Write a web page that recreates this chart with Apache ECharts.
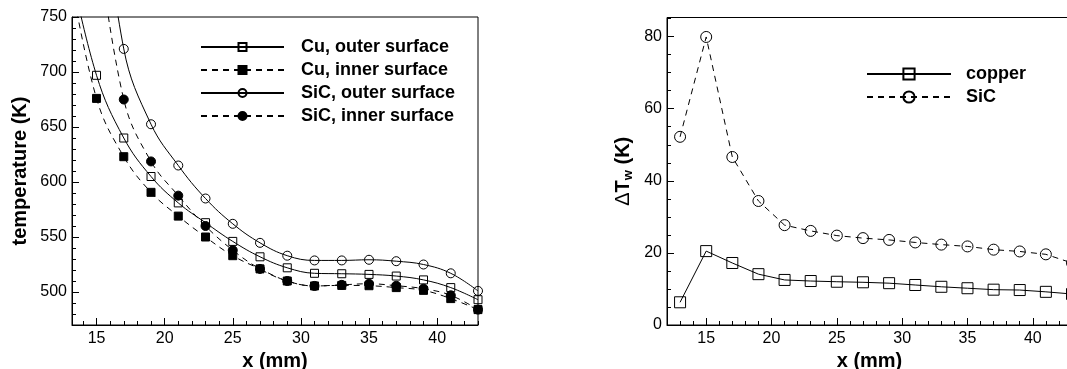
<!DOCTYPE html>
<html>
<head>
<meta charset="utf-8">
<script src="https://cdn.jsdelivr.net/npm/echarts@6/dist/echarts.min.js"></script>
<style>
  html, body { margin: 0; padding: 0; background: #fff; }
  #chart { width: 1067px; height: 369px; }
</style>
</head>
<body>
<div id="chart"></div>
<script>
// Axial stations along the wall (mm)
const xPositions = [13, 15, 17, 19, 21, 23, 25, 27, 29, 31, 33, 35, 37, 39, 41, 43];

// Wall temperatures (K); null where a curve has no station
const cuOuter  = [800, 697, 640, 605, 581, 563, 546, 532, 522, 517, 516.6, 516, 514.5, 511, 504, 493];
const cuInner  = [794, 676, 623, 590.6, 569, 550, 533, 521, 510, 505.5, 506, 505.7, 504, 501.5, 494, 484];
const sicOuter = [null, 910, 721, 652.5, 615, 585, 562, 544.7, 533, 528.7, 528.7, 529.3, 528, 525, 517, 501];
const sicInner = [null, 830, 675, 618.7, 587.6, 560, 538, 521, 510, 505.5, 506.5, 507.5, 505.7, 503, 497, 484];

// Wall temperature difference ΔTw (K)
const dtCopper = [6.3, 20.5, 17.2, 14.1, 12.5, 12.2, 12.0, 11.85, 11.6, 11.1, 10.6, 10.2, 9.8, 9.7, 9.2, 8.6];
const dtSiC    = [52.2, 79.9, 46.6, 34.4, 27.7, 26.1, 24.8, 24.1, 23.6, 22.9, 22.3, 21.8, 20.9, 20.4, 19.6, 17.2];

// Tick positions
const xTicks     = [15, 20, 25, 30, 35, 40];
const tempTicks  = [500, 550, 600, 650, 700, 750];
const dtTicks    = [0, 20, 40, 60, 80];
const xMinorLeft  = [14, 16, 17, 18, 19, 21, 22, 23, 24, 26, 27, 28, 29, 31, 32, 33, 34, 36, 37, 38, 39, 41, 42, 43];
const xMinorRight = [12, 13, 14, 16, 17, 18, 19, 21, 22, 23, 24, 26, 27, 28, 29, 31, 32, 33, 34, 36, 37, 38, 39, 41, 42, 43];
const tempMinor  = [480, 490, 510, 520, 530, 540, 560, 570, 580, 590, 610, 620, 630, 640, 660, 670, 680, 690, 710, 720, 730, 740];
const dtMinor    = [5, 10, 15, 25, 30, 35, 45, 50, 55, 65, 70, 75, 85];

const FONT = 'Liberation Sans, Arial, Helvetica, sans-serif';
const BLACK = '#000';
const DASH = [6, 5];

function pairs(xs, ys) {
  const out = [];
  xs.forEach((x, i) => { if (ys[i] !== null) out.push([x, ys[i]]); });
  return out;
}

function majorAxis(dim, gridIndex, min, max, ticks, name, nameGap, extra) {
  const ax = {
    type: 'value', gridIndex, min, max,
    position: dim === 'x' ? 'bottom' : 'left',
    axisLine: { show: true, onZero: false, lineStyle: { color: BLACK, width: 1 } },
    axisTick: { show: true, inside: true, length: 7, customValues: ticks, lineStyle: { color: BLACK, width: 1 } },
    axisLabel: { show: true, customValues: ticks, margin: dim === 'x' ? 6 : 5, color: BLACK, fontSize: 16, fontFamily: FONT },
    splitLine: { show: false },
    name, nameLocation: 'middle', nameGap,
    nameTextStyle: { color: BLACK, fontSize: 20, fontWeight: 'bold', fontFamily: FONT }
  };
  return Object.assign(ax, extra || {});
}

function minorAxis(dim, gridIndex, min, max, ticks) {
  return {
    type: 'value', gridIndex, min, max,
    position: dim === 'x' ? 'bottom' : 'left',
    axisLine: { show: false, onZero: false },
    axisTick: { show: true, inside: true, length: 4, customValues: ticks, lineStyle: { color: BLACK, width: 1 } },
    axisLabel: { show: false },
    splitLine: { show: false }
  };
}

const openMark = { color: 'rgba(255,255,255,0)', borderColor: BLACK, borderWidth: 1 };
const filledMark = { color: BLACK, borderColor: BLACK, borderWidth: 1 };

function tempSeries(name, ys, symbol, size, mark, dashed) {
  return {
    name, type: 'line', xAxisIndex: 0, yAxisIndex: 0,
    data: pairs(xPositions, ys),
    smooth: 0.4, clip: true,
    symbol, symbolSize: size,
    itemStyle: mark,
    lineStyle: { color: BLACK, width: 1, type: dashed ? DASH : 'solid' },
    emphasis: { disabled: true }, animation: false
  };
}

function dtSeries(name, ys, symbol, dashed) {
  return {
    name, type: 'line', xAxisIndex: 2, yAxisIndex: 2,
    data: pairs(xPositions, ys),
    smooth: false, clip: true,
    symbol, symbolSize: 11,
    itemStyle: openMark,
    lineStyle: { color: BLACK, width: 1, type: dashed ? DASH : 'solid' },
    emphasis: { disabled: true }, animation: false
  };
}

const legendText = { color: BLACK, fontSize: 18, fontWeight: 'bold', fontFamily: FONT, padding: [0, 0, 0, 12] };

const gridBase = { show: true, borderColor: BLACK, borderWidth: 1, backgroundColor: 'transparent', outerBoundsMode: 'none', containLabel: false };

const option = {
  backgroundColor: '#fff',
  animation: false,
  grid: [
    Object.assign({ left: 72, top: 17, width: 406, height: 308 }, gridBase),
    Object.assign({ left: 667, top: 17.5, width: 405, height: 307.5 }, gridBase)
  ],
  xAxis: [
    majorAxis('x', 0, 13.2, 43, xTicks, 'x (mm)', 25),
    minorAxis('x', 0, 13.2, 43, xMinorLeft),
    majorAxis('x', 1, 12, 43, xTicks, 'x (mm)', 25),
    minorAxis('x', 1, 12, 43, xMinorRight)
  ],
  yAxis: [
    majorAxis('y', 0, 470, 750, tempTicks, 'temperature (K)', 42),
    minorAxis('y', 0, 470, 750, tempMinor),
    majorAxis('y', 1, 0, 85.3, dtTicks, '{d|Δ}{t|T}{w|w}{t| (K)}', 32, {
      nameTextStyle: {
        color: BLACK, fontSize: 20, fontWeight: 'bold', fontFamily: FONT,
        rich: {
          d: { fontSize: 20, fontWeight: 'normal', fontFamily: FONT, color: BLACK },
          t: { fontSize: 20, fontWeight: 'bold', fontFamily: FONT, color: BLACK },
          w: { fontSize: 13, fontWeight: 'bold', fontFamily: FONT, color: BLACK, padding: [10, 0, 0, 0] }
        }
      }
    }),
    minorAxis('y', 1, 0, 85.3, dtMinor)
  ],
  legend: [
    {
      data: ['Cu, outer surface', 'Cu, inner surface', 'SiC, outer surface', 'SiC, inner surface'],
      orient: 'vertical', left: 200, top: 38, padding: 0,
      itemWidth: 83, itemHeight: 10, itemGap: 5,
      textStyle: legendText, selectedMode: false
    },
    {
      data: ['copper', 'SiC'],
      orient: 'vertical', left: 866, top: 65, padding: 0,
      itemWidth: 84, itemHeight: 14, itemGap: 5,
      textStyle: Object.assign({}, legendText, { padding: [0, 0, 0, 10] }), selectedMode: false
    }
  ],
  series: [
    tempSeries('Cu, outer surface', cuOuter, 'rect', 8, openMark, false),
    tempSeries('Cu, inner surface', cuInner, 'rect', 8, filledMark, true),
    tempSeries('SiC, outer surface', sicOuter, 'circle', 9, openMark, false),
    tempSeries('SiC, inner surface', sicInner, 'circle', 9, filledMark, true),
    dtSeries('copper', dtCopper, 'rect', false),
    dtSeries('SiC', dtSiC, 'circle', true)
  ]
};

const chart = echarts.init(document.getElementById('chart'), null, { renderer: 'canvas' });
chart.setOption(option);
</script>
</body>
</html>
